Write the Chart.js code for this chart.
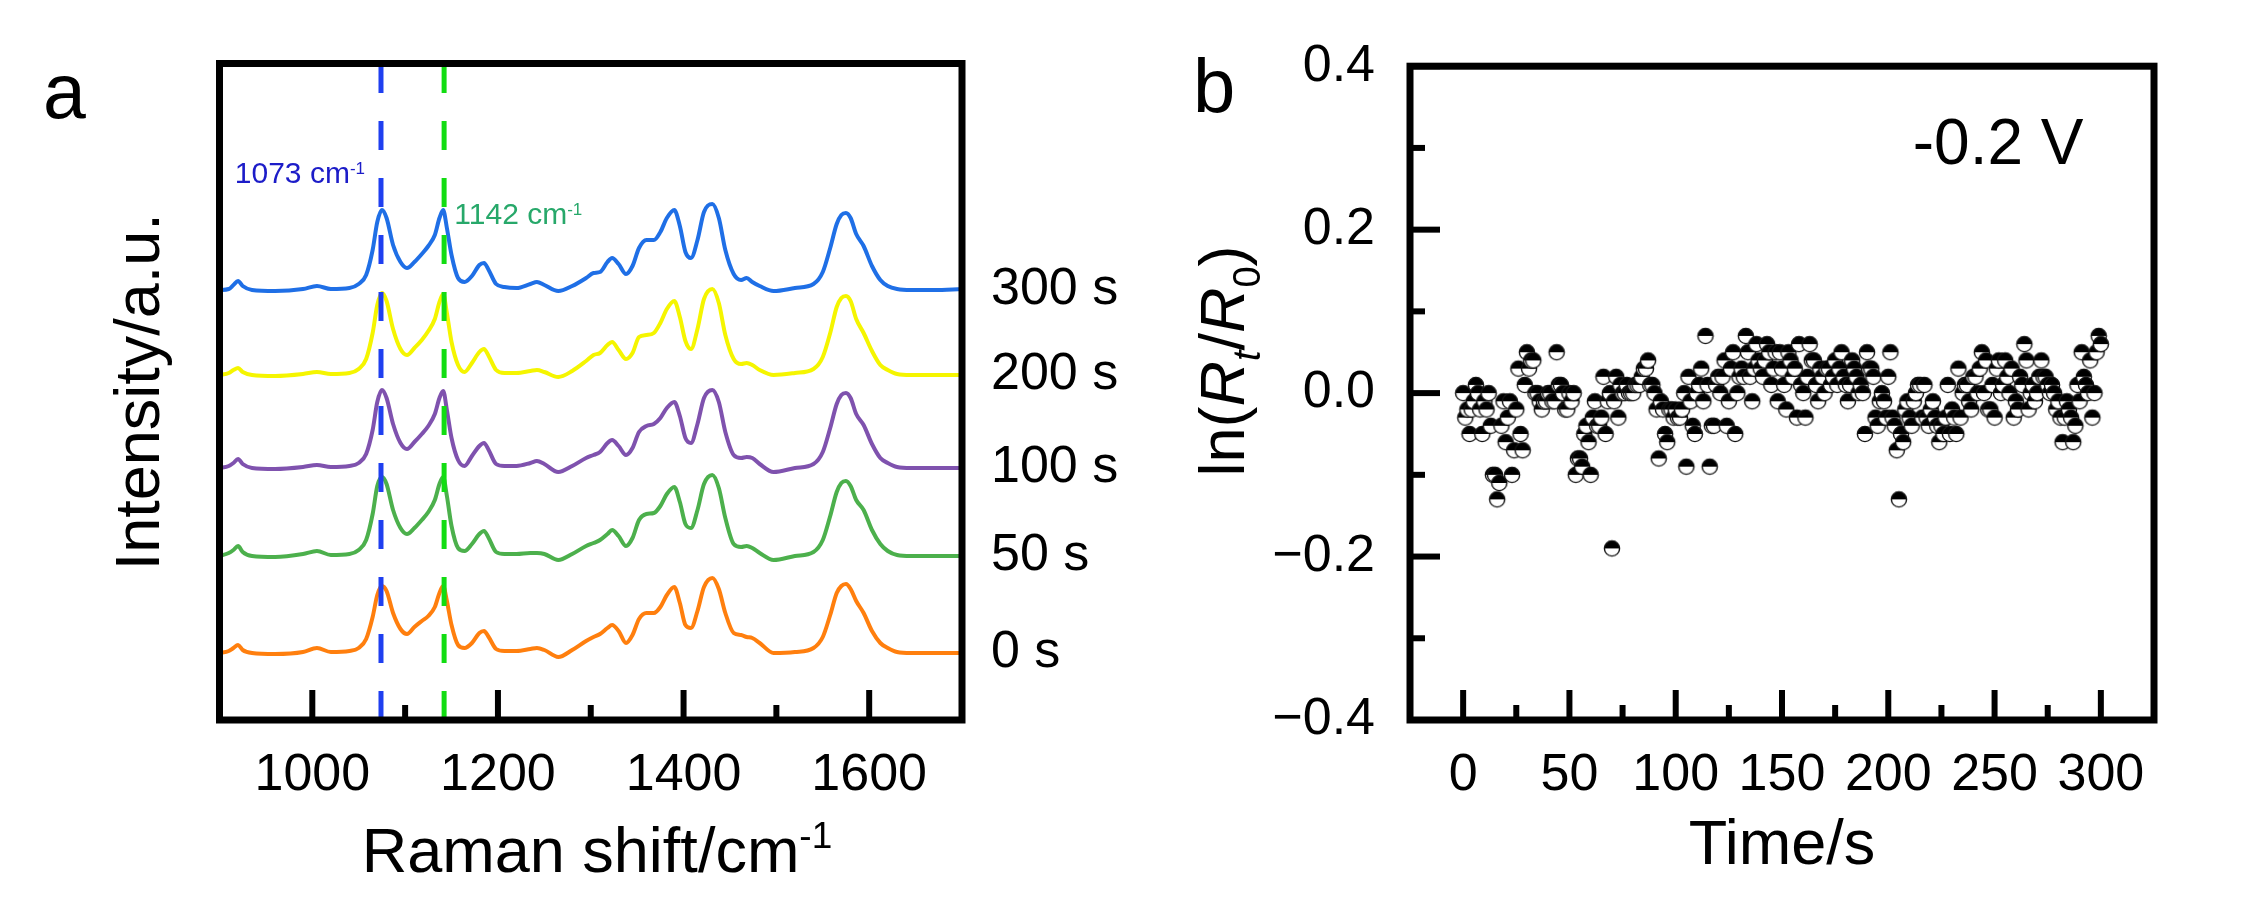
<!DOCTYPE html>
<html lang="en">
<head>
<meta charset="UTF-8">
<title>Raman spectra and ln(Rt/R0)</title>
<script src="https://cdn.jsdelivr.net/npm/chart.js"></script>
<style>
  body { margin: 0; background: #fff; }
  #wrap { position: relative; width: 2257px; height: 923px; }
  canvas { position: absolute; top: 0; }
  #ramanChart { left: 0; }
  #ratioChart { left: 1130px; }
</style>
</head>
<body>
<div id="wrap">
  <canvas id="ramanChart" width="1130" height="923"></canvas>
  <canvas id="ratioChart" width="1127" height="923"></canvas>
</div>
<script>
const FONT = '"Liberation Sans", Arial, sans-serif';

// ---- panel a: Raman spectra (heights above each trace's own baseline) ----
const ramanShift = [900, 910, 915, 920, 925, 935, 960, 990, 1005, 1020,
  1040, 1050, 1058, 1065, 1070, 1075, 1080, 1087, 1095, 1102,
  1110, 1118, 1125, 1132, 1137, 1141, 1145, 1150, 1157, 1164,
  1172, 1180, 1185, 1190, 1198, 1207, 1220, 1235, 1242, 1250,
  1265, 1280, 1295, 1303, 1310, 1318, 1323, 1330, 1338, 1345,
  1352, 1360, 1368, 1375, 1382, 1390, 1396, 1402, 1408, 1415,
  1422, 1431, 1438, 1445, 1454, 1462, 1468, 1474, 1482, 1497,
  1520, 1540, 1550, 1558, 1565, 1570, 1575, 1580, 1586, 1594,
  1603, 1612, 1620, 1630, 1645, 1670, 1700];

const spec0s = [0, 2, 5, 8, 3, 0, -1, 1, 5, 1,
  2, 5, 14, 36, 58, 67, 62, 40, 24, 19,
  26, 32, 37, 46, 60, 67, 52, 28, 8, 5,
  10, 20, 22, 16, 4, 2, 2, 4, 5, 3,
  -4, 3, 12, 16, 19, 25, 28, 22, 10, 18,
  34, 40, 40, 46, 58, 66, 50, 28, 25, 42,
  66, 75, 64, 40, 20, 18, 16, 15, 10, 0,
  1, 5, 16, 38, 60, 67, 69, 64, 52, 40,
  22, 10, 5, 1, 0, 0, 0];
const spec50s = [0, 3, 6, 10, 4, 0, -1, 2, 5, 1,
  2, 6, 16, 42, 70, 79, 72, 46, 28, 22,
  28, 36, 44, 56, 72, 79, 60, 30, 8, 5,
  12, 22, 25, 18, 4, 2, 2, 3, 3, 2,
  -4, 2, 10, 13, 16, 22, 26, 20, 10, 18,
  36, 42, 43, 50, 62, 69, 54, 32, 28, 46,
  72, 81, 68, 38, 12, 9, 10, 8, 3, -4,
  0, 4, 16, 40, 64, 73, 75, 70, 56, 46,
  26, 12, 5, 1, 0, 0, 0];
const spec100s = [0, 2, 5, 9, 4, 0, -1, 1, 3, 1,
  2, 5, 14, 38, 66, 78, 70, 44, 25, 19,
  26, 34, 42, 54, 70, 77, 58, 30, 8, 2,
  12, 22, 25, 18, 4, 2, 2, 5, 7, 4,
  -4, 2, 10, 13, 16, 25, 28, 22, 13, 20,
  36, 42, 44, 50, 60, 66, 52, 30, 25, 44,
  70, 78, 66, 36, 13, 10, 11, 10, 4, -4,
  0, 4, 16, 40, 64, 73, 75, 70, 54, 43,
  24, 10, 5, 1, 0, 0, 0];
const spec200s = [0, 2, 5, 7, 3, 0, -1, 1, 3, 1,
  2, 6, 16, 42, 70, 82, 74, 46, 26, 20,
  27, 35, 44, 56, 73, 81, 62, 33, 10, 3,
  12, 23, 26, 19, 5, 2, 2, 4, 5, 3,
  -2, 4, 14, 20, 22, 30, 33, 25, 16, 22,
  38, 40, 42, 52, 66, 74, 58, 34, 26, 46,
  76, 86, 72, 40, 16, 11, 12, 10, 5, 0,
  2, 6, 18, 42, 68, 77, 79, 74, 56, 42,
  24, 10, 5, 1, 0, 0, 0];
const spec300s = [0, 1, 5, 9, 4, 0, -1, 1, 4, 1,
  2, 6, 15, 40, 68, 80, 72, 45, 28, 22,
  28, 36, 44, 55, 72, 80, 62, 35, 12, 8,
  14, 25, 27, 20, 6, 3, 2, 6, 8, 5,
  -1, 4, 12, 17, 18, 28, 32, 26, 16, 24,
  42, 50, 50, 58, 72, 80, 64, 38, 32, 50,
  78, 86, 72, 40, 16, 10, 12, 8, 4, -1,
  2, 6, 18, 42, 66, 75, 77, 72, 56, 44,
  24, 10, 4, 1, 0, 0, 1];

const spectra = [spec0s, spec50s, spec100s, spec200s, spec300s];
const spectraLabels = ['0 s', '50 s', '100 s', '200 s', '300 s'];
const spectraColors = ['#ff7f0e', '#4cb04c', '#7f52ae', '#f5f500', '#1f6fe6'];
const stackOffsets = [67, 164, 252, 345, 430];

const peakLines = [1074, 1142];
const peakLineColors = ['#1f3ff0', '#12dd12'];
const peakTexts = ['1073 cm', '1142 cm'];
const peakTextColors = ['#1c1cc8', '#27a86a'];
const peakTextPos = [[916.5, 537], [1153, 496]];

const xTicksA = [1000, 1200, 1400, 1600];
const xMinorA = [1100, 1300, 1500];

// ---- panel b: ln(Rt/R0) vs time, one point per second ----
const timeStep = 1;
const lnRatio = [
  0, -0.03, -0.02, -0.05, -0.02, -0.01, 0.01, 0, -0.02, -0.05, -0.01, -0.02, 0, -0.04, -0.10, -0.10, -0.13, -0.11, -0.04, -0.01,
  -0.06, -0.03, -0.01, -0.10, -0.07, -0.02, 0.03, -0.05, -0.07, 0.01, 0.05, 0.03, 0.04, 0.04, 0, 0, -0.01, -0.02, -0.01, -0.01,
  0, 0, -0.01, -0.01, 0.05, 0.01, 0.01, 0, -0.02, -0.02, 0, -0.01, 0, -0.10, -0.08, -0.08, -0.09, -0.05, -0.04, -0.06,
  -0.10, -0.03, -0.01, -0.04, -0.04, -0.03, 0.02, -0.05, -0.01, 0, -0.19, -0.01, 0.02, -0.03, 0.01, 0, 0, 0.01, 0, 0,
  0, 0.01, 0.01, 0.01, 0.02, 0.03, 0.03, 0.04, 0.01, 0.01, 0, -0.02, -0.08, -0.01, -0.02, -0.05, -0.06, -0.02, -0.02, -0.03,
  -0.02, -0.03, -0.03, -0.02, 0, -0.09, 0.02, -0.01, -0.04, -0.05, 0, 0.01, 0.03, -0.01, 0.07, 0.01, -0.09, -0.04, -0.04, 0.01,
  0.02, 0, 0.02, 0.04, -0.04, -0.01, 0.03, 0.05, -0.05, 0, 0.02, 0.03, 0.02, 0.07, 0.05, 0.02, -0.01, 0.03, 0.06, 0.04,
  0.03, 0.02, 0.04, 0.06, 0.05, 0.01, 0.03, 0.05, -0.01, 0.05, 0.03, 0.01, -0.02, 0.05, 0.04, 0.02, 0.03, -0.03, 0.06, 0.01,
  0, -0.03, 0.02, 0.06, 0.04, 0.04, 0.01, -0.01, 0.03, 0.02, 0, 0.03, 0.03, 0.01, 0.02, 0.04, 0.01, 0.03, 0.05, 0.02,
  0.01, -0.01, 0.01, 0.04, 0.03, 0.02, 0, 0.01, 0, -0.05, 0.05, 0.03, 0.03, 0.02, -0.03, -0.04, -0.01, 0, -0.01, -0.03,
  0.02, 0.05, -0.03, -0.04, -0.07, -0.13, -0.05, -0.06, -0.02, -0.01, -0.03, -0.04, -0.01, 0, 0.01, 0.01, -0.03, 0.01, -0.03, -0.04,
  -0.02, -0.01, -0.03, -0.04, -0.06, -0.04, -0.05, -0.03, 0.01, -0.05, -0.02, -0.03, -0.05, 0.03, -0.03, 0, 0.01, 0.01, -0.01, -0.02,
  0.02, 0.02, 0, 0.03, 0.05, 0, 0.04, -0.02, -0.02, 0.01, -0.03, 0.03, 0.04, 0, 0.01, 0.04, 0.02, 0, 0.03, -0.03,
  -0.01, -0.02, 0.02, 0.01, 0.06, 0.04, -0.02, 0, 0.01, -0.01, 0, 0.02, 0.04, 0.02, 0.02, 0.01, 0, 0.01, 0, -0.02,
  -0.01, -0.03, -0.06, -0.03, -0.01, -0.02, -0.03, -0.06, -0.04, 0.01, -0.01, 0.05, 0.02, 0.01, 0, 0.04, -0.03, 0, 0.05, 0.07,
  0.06];

const xTicksB = [0, 50, 100, 150, 200, 250, 300];
const xMinorB = [25, 75, 125, 175, 225, 275];
const yTicksB = [-0.4, -0.2, 0, 0.2, 0.4];
const yMinorB = [-0.3, -0.1, 0.1, 0.3];

// ---- helpers ----
function drawRuns(ctx, runs, x, y) {
  runs.forEach(r => {
    ctx.font = r.font;
    ctx.fillStyle = r.color || '#000';
    ctx.fillText(r.text, x, y + (r.dy || 0));
    x += ctx.measureText(r.text).width;
  });
}
function runsWidth(ctx, runs) {
  let w = 0;
  runs.forEach(r => { ctx.font = r.font; w += ctx.measureText(r.text).width; });
  return w;
}

// box frame + inward ticks, drawn over the data
const boxPlugin = {
  id: 'box',
  afterDatasetsDraw(chart, args, opts) {
    const {ctx, chartArea: a, scales} = chart;
    ctx.save();
    ctx.strokeStyle = '#000';
    ctx.lineWidth = 6;
    const tick = (axis, vals, len) => vals.forEach(v => {
      ctx.beginPath();
      if (axis === 'x') {
        const px = scales.x.getPixelForValue(v);
        ctx.moveTo(px, a.bottom); ctx.lineTo(px, a.bottom - len);
      } else {
        const py = scales.y.getPixelForValue(v);
        ctx.moveTo(a.left, py); ctx.lineTo(a.left + len, py);
      }
      ctx.stroke();
    });
    tick('x', opts.xMajor || [], 30);
    tick('x', opts.xMinor || [], 15);
    tick('y', opts.yMajor || [], 30);
    tick('y', opts.yMinor || [], 15);
    ctx.lineWidth = 7;
    ctx.strokeRect(a.left, a.top, a.right - a.left, a.bottom - a.top);
    ctx.restore();
  }
};

const ramanText = {
  id: 'ramanText',
  afterDraw(chart) {
    const {ctx, scales: {x, y}} = chart;
    ctx.save();
    ctx.textBaseline = 'alphabetic';
    ctx.textAlign = 'left';
    // panel letter
    ctx.font = `77px ${FONT}`;
    ctx.fillStyle = '#000';
    ctx.fillText('a', 43, 118);
    // trace labels at the right of each baseline
    ctx.textBaseline = 'middle';
    ctx.font = `52px ${FONT}`;
    spectraLabels.forEach((lab, i) => {
      ctx.fillText(lab, 991, y.getPixelForValue(stackOffsets[i]));
    });
    ctx.textBaseline = 'alphabetic';
    // peak annotations
    peakTexts.forEach((t, i) => {
      const px = x.getPixelForValue(peakTextPos[i][0]);
      const py = y.getPixelForValue(peakTextPos[i][1]);
      drawRuns(ctx, [
        {text: t, font: `30px ${FONT}`, color: peakTextColors[i]},
        {text: '-1', font: `17px ${FONT}`, color: peakTextColors[i], dy: -9}
      ], px, py);
    });
    // x axis title with superscript
    const runs = [
      {text: 'Raman shift/cm', font: `63px ${FONT}`},
      {text: '-1', font: `37px ${FONT}`, dy: -24.5}
    ];
    const w = runsWidth(ctx, runs);
    drawRuns(ctx, runs, 597 - w / 2, 872);
    ctx.restore();
  }
};

const ratioText = {
  id: 'ratioText',
  afterDraw(chart) {
    const {ctx, scales: {x, y}} = chart;
    ctx.save();
    ctx.fillStyle = '#000';
    ctx.textAlign = 'left';
    ctx.textBaseline = 'alphabetic';
    ctx.font = `76px ${FONT}`;
    ctx.fillText('b', 63, 112);
    ctx.font = `64px ${FONT}`;
    ctx.fillText('-0.2 V', x.getPixelForValue(211.5), y.getPixelForValue(0.28));
    // rotated y title ln(Rt/R0)
    const runs = [
      {text: 'ln(', font: `63px ${FONT}`},
      {text: 'R', font: `italic 63px ${FONT}`},
      {text: 't', font: `italic 38px ${FONT}`, dy: 16},
      {text: '/', font: `63px ${FONT}`},
      {text: 'R', font: `italic 63px ${FONT}`},
      {text: '0', font: `38px ${FONT}`, dy: 16},
      {text: ')', font: `63px ${FONT}`}
    ];
    const w = runsWidth(ctx, runs);
    ctx.translate(114, 361);
    ctx.rotate(-Math.PI / 2);
    drawRuns(ctx, runs, -w / 2, 0);
    ctx.restore();
  }
};

// half-filled circle marker
function halfDot() {
  const c = document.createElement('canvas');
  c.width = 20; c.height = 20;
  const g = c.getContext('2d');
  const r = 7.6;
  g.fillStyle = '#fff';
  g.beginPath(); g.arc(10, 10, r, 0, Math.PI * 2); g.fill();
  g.fillStyle = '#000';
  g.beginPath(); g.arc(10, 10, r, Math.PI, 0); g.closePath(); g.fill();
  g.strokeStyle = '#111';
  g.lineWidth = 1.4;
  g.beginPath(); g.arc(10, 10, r, 0, Math.PI * 2); g.stroke();
  return c;
}

// ---- chart a ----
const ramanSets = [];
peakLines.forEach((p, i) => {
  ramanSets.push({
    data: [{x: p, y: 0}, {x: p, y: 656.5}],
    borderColor: peakLineColors[i],
    borderWidth: 5,
    borderDash: [29, 28],
    pointRadius: 0
  });
});
spectra.forEach((s, i) => {
  ramanSets.push({
    data: ramanShift.map((w, k) => ({x: w, y: s[k] + stackOffsets[i]})),
    borderColor: spectraColors[i],
    borderWidth: 4,
    pointRadius: 0,
    cubicInterpolationMode: 'monotone'
  });
});

new Chart(document.getElementById('ramanChart'), {
  type: 'line',
  data: { datasets: ramanSets },
  options: {
    responsive: false,
    animation: false,
    layout: { padding: { left: 0, right: 168, top: 63.5, bottom: 0 } },
    plugins: {
      legend: { display: false },
      tooltip: { enabled: false },
      box: { xMajor: xTicksA, xMinor: xMinorA }
    },
    scales: {
      x: {
        type: 'linear',
        min: 900, max: 1700,
        afterBuildTicks: s => { s.ticks = xTicksA.map(value => ({value})); },
        afterFit: s => { s.height = 203; },
        grid: { display: false, drawTicks: false },
        border: { display: false },
        ticks: {
          color: '#000',
          font: { family: FONT, size: 52 },
          padding: 24,
          maxRotation: 0,
          autoSkip: false,
          callback: v => String(v)
        }
      },
      y: {
        min: 0, max: 656.5,
        afterFit: s => { s.width = 219.5; },
        grid: { display: false, drawTicks: false },
        border: { display: false },
        ticks: { display: false },
        title: {
          display: true,
          text: 'Intensity/a.u.',
          color: '#000',
          font: { family: FONT, size: 63 },
          padding: { top: 104, bottom: 0 }
        }
      }
    }
  },
  plugins: [boxPlugin, ramanText]
});

// ---- chart b ----
const dot = halfDot();
new Chart(document.getElementById('ratioChart'), {
  type: 'scatter',
  data: {
    datasets: [{
      data: lnRatio.map((v, i) => ({x: i * timeStep, y: v})),
      pointStyle: dot,
      pointRadius: 8
    }]
  },
  options: {
    responsive: false,
    animation: false,
    layout: { padding: { left: 0, right: 103, top: 63.5, bottom: 0 } },
    plugins: {
      legend: { display: false },
      tooltip: { enabled: false },
      box: { xMajor: xTicksB, xMinor: xMinorB, yMajor: yTicksB, yMinor: yMinorB }
    },
    scales: {
      x: {
        type: 'linear',
        min: -25, max: 325,
        afterBuildTicks: s => { s.ticks = xTicksB.map(value => ({value})); },
        afterFit: s => { s.height = 203; },
        grid: { display: false, drawTicks: false },
        border: { display: false },
        ticks: {
          color: '#000',
          font: { family: FONT, size: 52 },
          padding: 24,
          maxRotation: 0,
          autoSkip: false,
          callback: v => String(v)
        },
        title: {
          display: true,
          text: 'Time/s',
          color: '#000',
          font: { family: FONT, size: 63 },
          padding: { top: 0, bottom: 39 }
        }
      },
      y: {
        min: -0.4, max: 0.4,
        afterBuildTicks: s => { s.ticks = yTicksB.map(value => ({value})); },
        afterFit: s => { s.width = 280; },
        grid: { display: false, drawTicks: false },
        border: { display: false },
        ticks: {
          color: '#000',
          font: { family: FONT, size: 52 },
          padding: 35,
          autoSkip: false,
          callback: v => (v < 0 ? '\u2212' : '') + Math.abs(v).toFixed(1)
        }
      }
    }
  },
  plugins: [boxPlugin, ratioText]
});
</script>
</body>
</html>
